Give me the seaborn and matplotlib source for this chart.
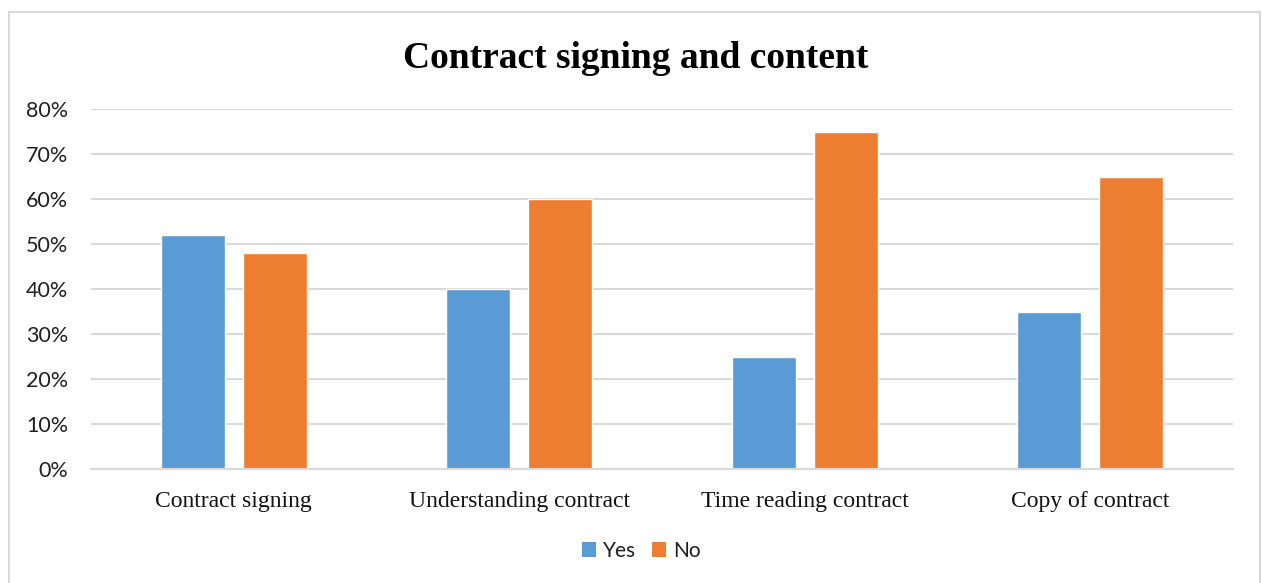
import matplotlib
matplotlib.use("Agg")
import matplotlib.pyplot as plt
from matplotlib.patches import Rectangle, Patch
from matplotlib.ticker import PercentFormatter
import pandas as pd
import seaborn as sns

categories = ["Contract signing", "Understanding contract", "Time reading contract", "Copy of contract"]
series_names = ["Yes", "No"]
yes_values = [52, 40, 25, 35]
no_values = [48, 60, 75, 65]
y_ticks = [0, 10, 20, 30, 40, 50, 60, 70, 80]
title = "Contract signing and content"

colors = {"Yes": "#5B9BD5", "No": "#ED7D31"}

df = pd.DataFrame({
    "category": categories * 2,
    "answer": ["Yes"] * len(categories) + ["No"] * len(categories),
    "value": yes_values + no_values,
})

sns.set_theme(style="white")
plt.rcParams["font.family"] = ["Lato", "DejaVu Sans"]

fig = plt.figure(figsize=(12.63, 5.83), dpi=100)
ax = fig.add_axes([0.0721, 0.1955, 0.9042, 0.6175])

sns.barplot(data=df, x="category", y="value", hue="answer", hue_order=series_names,
            order=categories, palette=colors, width=0.575, gap=0.22,
            saturation=1, errorbar=None, legend=False, ax=ax)

ax.set_xlim(-0.5, len(categories) - 0.5)
ax.set_ylim(0, 80)
ax.set_yticks(y_ticks)
ax.yaxis.set_major_formatter(PercentFormatter(decimals=0))
ax.grid(axis="y", color="#D9D9D9", linewidth=1.5)
ax.set_axisbelow(True)
for s in ["left", "right", "top"]:
    ax.spines[s].set_visible(False)
ax.spines["bottom"].set_color("#D9D9D9")
ax.spines["bottom"].set_linewidth(1.5)
ax.tick_params(axis="both", length=0)
ax.tick_params(axis="y", pad=16.5, labelsize=15.5, labelcolor="#1f1f1f")
ax.tick_params(axis="x", pad=16)
for lbl in ax.get_xticklabels():
    lbl.set_fontfamily("Liberation Serif")
    lbl.set_fontsize(17)
    lbl.set_color("#111111")
ax.set_xlabel("")
ax.set_ylabel("")

fig.text(0.5035, 0.9, title, ha="center", va="center", fontsize=27,
         fontweight="bold", family="Liberation Serif", color="black")

handles = [Patch(facecolor=colors[n], edgecolor="none", label=n) for n in series_names]
fig.legend(handles=handles, loc="center", bbox_to_anchor=(0.508, 0.055), ncol=2,
           frameon=False, fontsize=15, handlelength=0.68, handleheight=0.68,
           handletextpad=0.35, columnspacing=0.75, labelcolor="#1f1f1f")

fig.patches.append(Rectangle((9 / 1263, -0.01), 1251 / 1263, 1 - 12 / 583 + 0.01,
                             transform=fig.transFigure, fill=False,
                             edgecolor="#D9D9D9", linewidth=1.5))

fig.savefig("out.png", dpi=100)
